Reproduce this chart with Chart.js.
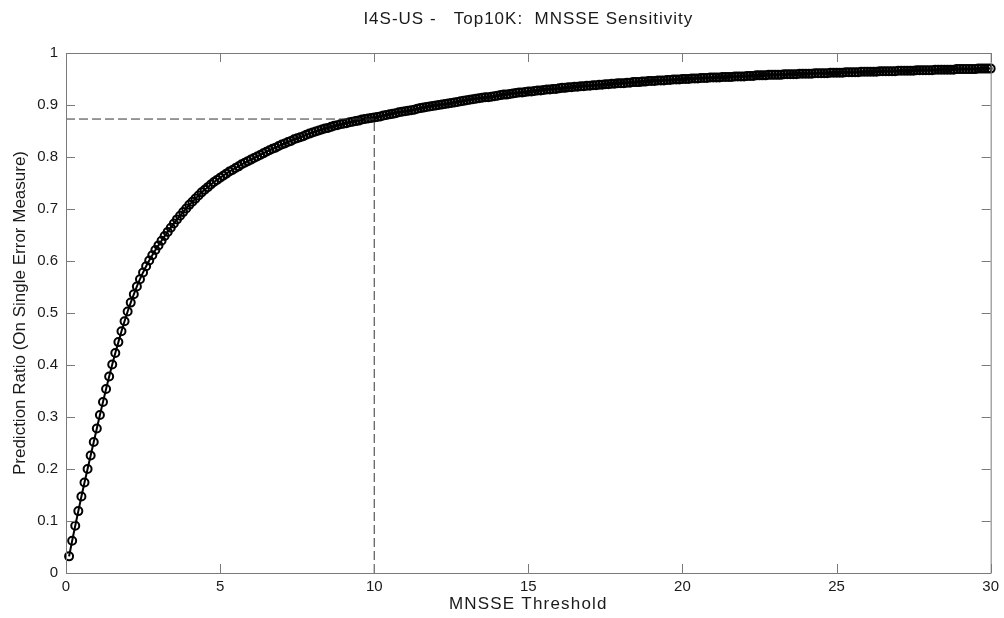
<!DOCTYPE html>
<html>
<head>
<meta charset="utf-8">
<script src="https://cdn.jsdelivr.net/npm/chart.js@4"></script>
<style>
  body { margin: 0; background: #fff; }
  #wrap { width: 1004px; height: 618px; }
</style>
</head>
<body>
<div id="wrap"><canvas id="myChart" width="1004" height="618"></canvas></div>
<script>
// MNSSE threshold grid: first threshold and step between markers
const thresholdStart = 0.1;
const thresholdStep = 0.1;

// prediction ratio, one value per marker (0.1 .. 30.0)
const predictionRatio = [
    0.032, 0.062, 0.091, 0.119, 0.147, 0.174, 0.200, 0.226, 0.252, 0.278,
    0.304, 0.329, 0.354, 0.378, 0.401, 0.423, 0.444, 0.465, 0.484, 0.503,
    0.520, 0.536, 0.551, 0.565, 0.578, 0.590, 0.601, 0.611, 0.621, 0.630,
    0.639, 0.648, 0.656, 0.664, 0.672, 0.680, 0.687, 0.694, 0.701, 0.708,
    0.714, 0.720, 0.726, 0.732, 0.737, 0.742, 0.747, 0.752, 0.756, 0.760,
    0.764, 0.768, 0.772, 0.775, 0.779, 0.782, 0.786, 0.789, 0.792, 0.795,
    0.798, 0.801, 0.804, 0.807, 0.810, 0.813, 0.816, 0.818, 0.821, 0.824,
    0.826, 0.829, 0.831, 0.834, 0.836, 0.838, 0.840, 0.843, 0.845, 0.847,
    0.849, 0.851, 0.853, 0.855, 0.856, 0.858, 0.860, 0.861, 0.863, 0.864,
    0.865, 0.867, 0.868, 0.869, 0.870, 0.872, 0.873, 0.874, 0.875, 0.876,
    0.877, 0.878, 0.880, 0.881, 0.882, 0.883, 0.884, 0.886, 0.887, 0.888,
    0.889, 0.890, 0.891, 0.893, 0.894, 0.895, 0.896, 0.897, 0.898, 0.899,
    0.900, 0.901, 0.902, 0.903, 0.904, 0.905, 0.906, 0.907, 0.908, 0.909,
    0.910, 0.911, 0.912, 0.913, 0.914, 0.915, 0.915, 0.916, 0.917, 0.918,
    0.919, 0.920, 0.920, 0.921, 0.922, 0.923, 0.924, 0.924, 0.925, 0.926,
    0.926, 0.927, 0.928, 0.928, 0.929, 0.930, 0.930, 0.931, 0.931, 0.932,
    0.933, 0.933, 0.934, 0.934, 0.935, 0.935, 0.936, 0.936, 0.937, 0.937,
    0.938, 0.938, 0.939, 0.939, 0.940, 0.940, 0.941, 0.941, 0.942, 0.942,
    0.942, 0.943, 0.943, 0.944, 0.944, 0.944, 0.945, 0.945, 0.946, 0.946,
    0.946, 0.947, 0.947, 0.947, 0.948, 0.948, 0.949, 0.949, 0.949, 0.950,
    0.950, 0.950, 0.951, 0.951, 0.951, 0.952, 0.952, 0.952, 0.953, 0.953,
    0.953, 0.953, 0.954, 0.954, 0.954, 0.954, 0.955, 0.955, 0.955, 0.955,
    0.956, 0.956, 0.956, 0.957, 0.957, 0.957, 0.957, 0.958, 0.958, 0.958,
    0.958, 0.958, 0.959, 0.959, 0.959, 0.959, 0.959, 0.960, 0.960, 0.960,
    0.960, 0.960, 0.961, 0.961, 0.961, 0.961, 0.961, 0.962, 0.962, 0.962,
    0.962, 0.962, 0.963, 0.963, 0.963, 0.963, 0.963, 0.964, 0.964, 0.964,
    0.964, 0.964, 0.964, 0.965, 0.965, 0.965, 0.965, 0.965, 0.965, 0.966,
    0.966, 0.966, 0.966, 0.966, 0.966, 0.967, 0.967, 0.967, 0.967, 0.967,
    0.967, 0.968, 0.968, 0.968, 0.968, 0.968, 0.968, 0.968, 0.969, 0.969,
    0.969, 0.969, 0.969, 0.969, 0.969, 0.970, 0.970, 0.970, 0.970, 0.970
];

// the marked operating point (dashed guide lines)
const refThreshold = 10;
const refRatio = 0.873;

const xTickLabels = ['0', '5', '10', '15', '20', '25', '30'];
const yTickLabels = ['0', '0.1', '0.2', '0.3', '0.4', '0.5', '0.6', '0.7', '0.8', '0.9', '1'];

const titleText = 'I4S-US -   Top10K:  MNSSE Sensitivity';
const xTitle = 'MNSSE Threshold';
const yTitle = 'Prediction Ratio (On Single Error Measure)';

const curvePoints = predictionRatio.map((r, i) => ({
    x: Math.round((thresholdStart + i * thresholdStep) * 10) / 10,
    y: r
}));

// old matlab export spreads the title letters a bit
function spaced(obj, fnName, spacing) {
    if (!obj || obj['_spaced_' + fnName]) return;
    const orig = obj[fnName].bind(obj);
    obj[fnName] = function (...args) {
        const ctx = this.ctx;
        ctx.save();
        ctx.letterSpacing = spacing;
        orig(...args);
        ctx.restore();
    };
    obj['_spaced_' + fnName] = true;
}

// matlab style box with inward ticks on all four sides
const matlabBox = {
    id: 'matlabBox',
    beforeDraw(chart) {
        spaced(chart.titleBlock, 'draw', '1px');
        spaced(chart.scales.x, 'drawTitle', '1.2px');
    },
    afterDraw(chart) {
        const {ctx, chartArea: a, scales} = chart;
        const len = 9;
        ctx.save();
        ctx.strokeStyle = '#7a7a7a';
        ctx.lineWidth = 1;
        ctx.beginPath();
        ctx.rect(a.left + 0.5, a.top + 0.5, a.right - a.left, a.bottom - a.top);
        scales.x.ticks.forEach(t => {
            const px = Math.round(scales.x.getPixelForValue(t.value)) + 0.5;
            ctx.moveTo(px, a.bottom); ctx.lineTo(px, a.bottom - len);
            ctx.moveTo(px, a.top); ctx.lineTo(px, a.top + len);
        });
        scales.y.ticks.forEach(t => {
            const py = Math.round(scales.y.getPixelForValue(t.value)) + 0.5;
            ctx.moveTo(a.left, py); ctx.lineTo(a.left + len, py);
            ctx.moveTo(a.right, py); ctx.lineTo(a.right - len, py);
        });
        ctx.stroke();
        ctx.restore();
    }
};

const textFont = { family: "'Liberation Sans', Arial, sans-serif", size: 17 };
const tickFont = { family: "'Liberation Sans', Arial, sans-serif", size: 15 };

window.onload = () => {
    const chartContext = document.getElementById('myChart').getContext('2d');
    const chartConfig = {
        type: 'line',
        data: {
            datasets: [{
                label: 'guide-h',
                data: [{x: 0, y: refRatio}, {x: refThreshold, y: refRatio}],
                borderColor: '#333',
                borderWidth: 1,
                borderDash: [9, 4],
                pointRadius: 0
            }, {
                label: 'guide-v',
                data: [{x: refThreshold, y: 0}, {x: refThreshold, y: refRatio}],
                borderColor: '#333',
                borderWidth: 1,
                borderDash: [9, 4],
                pointRadius: 0
            }, {
                label: 'Prediction ratio',
                data: curvePoints,
                borderColor: '#000',
                borderWidth: 2,
                pointStyle: 'circle',
                pointRadius: 4,
                pointBorderWidth: 2,
                pointBorderColor: '#000',
                pointBackgroundColor: 'rgba(0,0,0,0)',
                tension: 0,
                clip: false
            }]
        },
        options: {
            responsive: false,
            animation: false,
            layout: { padding: { left: 0, right: 10, top: 0, bottom: 0 } },
            plugins: {
                legend: { display: false },
                tooltip: { enabled: false },
                title: {
                    display: true,
                    fullSize: false,
                    text: titleText,
                    color: '#1a1a1a',
                    font: { ...textFont, weight: 'normal' },
                    padding: { top: 9, bottom: 23.6 }
                }
            },
            scales: {
                x: {
                    type: 'linear',
                    min: 0,
                    max: 30,
                    grid: { display: false, drawTicks: false },
                    border: { display: false },
                    ticks: {
                        stepSize: 5,
                        padding: 5,
                        color: '#1a1a1a',
                        font: tickFont,
                        maxRotation: 0,
                        callback: (v, i) => xTickLabels[i]
                    },
                    title: {
                        display: true,
                        text: xTitle,
                        color: '#1a1a1a',
                        font: textFont,
                        padding: { top: 0, bottom: 3 }
                    },
                    afterFit: (s) => { s.height = 45; }
                },
                y: {
                    type: 'linear',
                    min: 0,
                    max: 1,
                    grid: { display: false, drawTicks: false },
                    border: { display: false },
                    ticks: {
                        stepSize: 0.1,
                        padding: 8,
                        color: '#1a1a1a',
                        font: tickFont,
                        callback: (v, i) => yTickLabels[i]
                    },
                    title: {
                        display: true,
                        text: yTitle,
                        color: '#1a1a1a',
                        font: textFont,
                        padding: { top: 10, bottom: 0 }
                    },
                    afterFit: (s) => { s.width = 66; }
                }
            }
        },
        plugins: [matlabBox]
    };
    const myChart = new Chart(chartContext, chartConfig);
};
</script>
</body>
</html>
